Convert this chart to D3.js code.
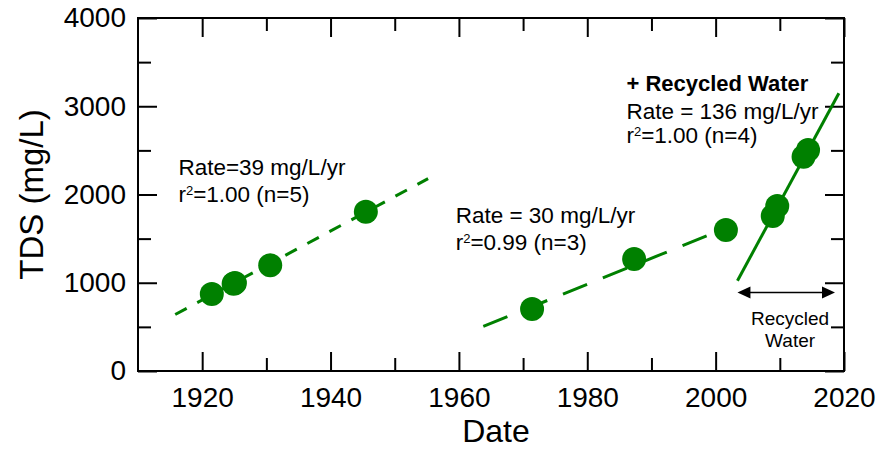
<!DOCTYPE html>
<html>
<head>
<meta charset="utf-8">
<script src="https://cdn.jsdelivr.net/npm/d3@7"></script>
<style>
  body { margin: 0; background: #fff; }
  svg { display: block; font-family: "Liberation Sans", Arial, sans-serif; }
</style>
</head>
<body>
<div id="chart"></div>
<script>
// TDS over time, three fitted periods

// data
const earlyYears = [1921.5, 1924.9, 1925.1, 1930.6, 1945.5];
const earlyTds = [872, 988, 998, 1198, 1805];

const midYears = [1971.4, 1987.3, 2001.6];
const midTds = [703, 1269, 1598];

const recycledYears = [2008.9, 2009.6, 2013.7, 2014.4];
const recycledTds = [1756, 1870, 2428, 2504];

// trend line ends [year, tds]
const earlyTrend = [[1915.8, 640], [1955.2, 2180]];
const midTrend = [[1963.8, 505], [2001.6, 1620]];
const recycledTrend = [[2003.4, 1023], [2019.2, 3147]];

// span of recycled water use
const recycledSpan = [2003.4, 2018.6];
const recycledSpanTds = 890;

const xMajor = [1920, 1940, 1960, 1980, 2000, 2020];
const xMinor = [1930, 1950, 1970, 1990, 2010];
const yMajor = [0, 1000, 2000, 3000, 4000];
const yMinor = [500, 1500, 2500, 3500];

const green = "#008000";

let width = 881, height = 450;
let svg = d3.select("#chart").append("svg")
    .attr("width", width)
    .attr("height", height);

let x = d3.scaleLinear().domain([1910, 2020]).range([138, 844]);
let y = d3.scaleLinear().domain([0, 4000]).range([371, 18]);

// axes, ticks point inward on all four sides
function styleAxis(g, fontSize) {
    g.select(".domain").remove();
    g.selectAll(".tick line").attr("stroke", "#000").attr("stroke-width", 2);
    g.selectAll("text").attr("font-size", fontSize).attr("fill", "#000")
        .attr("font-family", "Liberation Sans, Arial, sans-serif");
}

svg.append("g").attr("transform", `translate(0,${y(0)})`)
    .call(d3.axisBottom(x).tickValues(xMajor).tickFormat(d3.format("d"))
        .tickSizeInner(-19).tickSizeOuter(0).tickPadding(16))
    .call(g => styleAxis(g, 28));
svg.append("g").attr("transform", `translate(0,${y(0)})`)
    .call(d3.axisBottom(x).tickValues(xMinor).tickFormat("").tickSizeInner(-13).tickSizeOuter(0))
    .call(g => styleAxis(g, 0));
svg.append("g").attr("transform", `translate(0,${y(4000)})`)
    .call(d3.axisTop(x).tickValues(xMajor).tickFormat("").tickSizeInner(-19).tickSizeOuter(0))
    .call(g => styleAxis(g, 0));
svg.append("g").attr("transform", `translate(0,${y(4000)})`)
    .call(d3.axisTop(x).tickValues(xMinor).tickFormat("").tickSizeInner(-13).tickSizeOuter(0))
    .call(g => styleAxis(g, 0));

svg.append("g").attr("transform", `translate(${x(1910)},0)`)
    .call(d3.axisLeft(y).tickValues(yMajor).tickFormat(d3.format("d"))
        .tickSizeInner(-19).tickSizeOuter(0).tickPadding(12))
    .call(g => styleAxis(g, 28));
svg.append("g").attr("transform", `translate(${x(1910)},0)`)
    .call(d3.axisLeft(y).tickValues(yMinor).tickFormat("").tickSizeInner(-13).tickSizeOuter(0))
    .call(g => styleAxis(g, 0));
svg.append("g").attr("transform", `translate(${x(2020)},0)`)
    .call(d3.axisRight(y).tickValues(yMajor).tickFormat("").tickSizeInner(-19).tickSizeOuter(0))
    .call(g => styleAxis(g, 0));
svg.append("g").attr("transform", `translate(${x(2020)},0)`)
    .call(d3.axisRight(y).tickValues(yMinor).tickFormat("").tickSizeInner(-13).tickSizeOuter(0))
    .call(g => styleAxis(g, 0));

// frame
svg.append("rect")
    .attr("x", x(1910)).attr("y", y(4000))
    .attr("width", x(2020) - x(1910)).attr("height", y(0) - y(4000))
    .attr("fill", "none").attr("stroke", "#000").attr("stroke-width", 2);

// axis titles
svg.append("text")
    .attr("x", (x(1910) + x(2020)) / 2 + 5).attr("y", 442)
    .attr("text-anchor", "middle").attr("font-size", 32)
    .text("Date");
svg.append("text")
    .attr("transform", `translate(43,${(y(0) + y(4000)) / 2}) rotate(-90)`)
    .attr("text-anchor", "middle").attr("font-size", 33)
    .text("TDS (mg/L)");

// trend lines
let line = d3.line().x(d => x(d[0])).y(d => y(d[1]));
svg.append("path").attr("d", line(earlyTrend))
    .attr("fill", "none").attr("stroke", green).attr("stroke-width", 3)
    .attr("stroke-dasharray", "13,12");
svg.append("path").attr("d", line(midTrend))
    .attr("fill", "none").attr("stroke", green).attr("stroke-width", 3)
    .attr("stroke-dasharray", "26,17");
svg.append("path").attr("d", line(recycledTrend))
    .attr("fill", "none").attr("stroke", green).attr("stroke-width", 3);

// points
function drawPoints(years, vals) {
    svg.append("g").selectAll("circle")
        .data(years.map((yr, i) => [yr, vals[i]]))
        .enter().append("circle")
        .attr("cx", d => x(d[0]))
        .attr("cy", d => y(d[1]))
        .attr("r", 12)
        .attr("fill", green);
}
drawPoints(earlyYears, earlyTds);
drawPoints(midYears, midTds);
drawPoints(recycledYears, recycledTds);

// recycled water double arrow
let ay = y(recycledSpanTds);
let ax0 = x(recycledSpan[0]), ax1 = x(recycledSpan[1]);
svg.append("line")
    .attr("x1", ax0 + 6).attr("x2", ax1 - 6)
    .attr("y1", ay).attr("y2", ay)
    .attr("stroke", "#000").attr("stroke-width", 1.5);
svg.append("path")
    .attr("d", `M${ax0},${ay}L${ax0 + 13},${ay - 6}L${ax0 + 13},${ay + 6}Z`)
    .attr("fill", "#000");
svg.append("path")
    .attr("d", `M${ax1},${ay}L${ax1 - 13},${ay - 6}L${ax1 - 13},${ay + 6}Z`)
    .attr("fill", "#000");
svg.append("text")
    .attr("x", x(2011.6)).attr("y", y(521))
    .attr("text-anchor", "middle").attr("font-size", 19)
    .text("Recycled");
svg.append("text")
    .attr("x", x(2011.6)).attr("y", y(272))
    .attr("text-anchor", "middle").attr("font-size", 19)
    .text("Water");

// rate annotations
function rSquared(g, xx, yy, r2, n) {
    let t = g.append("text").attr("x", xx).attr("y", yy).attr("font-size", 22.5);
    t.append("tspan").text("r");
    t.append("tspan").attr("font-size", 13).attr("dy", -7).text("2");
    t.append("tspan").attr("dy", 7).text(`=${r2} (n=${n})`);
}

let ann = svg.append("g");
ann.append("text").attr("x", x(1916.3)).attr("y", y(2221))
    .attr("font-size", 22.5).text("Rate=39 mg/L/yr");
rSquared(ann, x(1916.3), y(1918), "1.00", 5);

ann.append("text").attr("x", x(1959.5)).attr("y", y(1674))
    .attr("font-size", 22.5).text("Rate = 30 mg/L/yr");
rSquared(ann, x(1959.5), y(1371), "0.99", 3);

ann.append("text").attr("x", x(1986.1)).attr("y", y(3176))
    .attr("font-size", 22).attr("font-weight", "bold").text("+ Recycled Water");
ann.append("text").attr("x", x(1986.1)).attr("y", y(2856))
    .attr("font-size", 22.5).text("Rate = 136 mg/L/yr");
rSquared(ann, x(1986.1), y(2580), "1.00", 4);
</script>
</body>
</html>
